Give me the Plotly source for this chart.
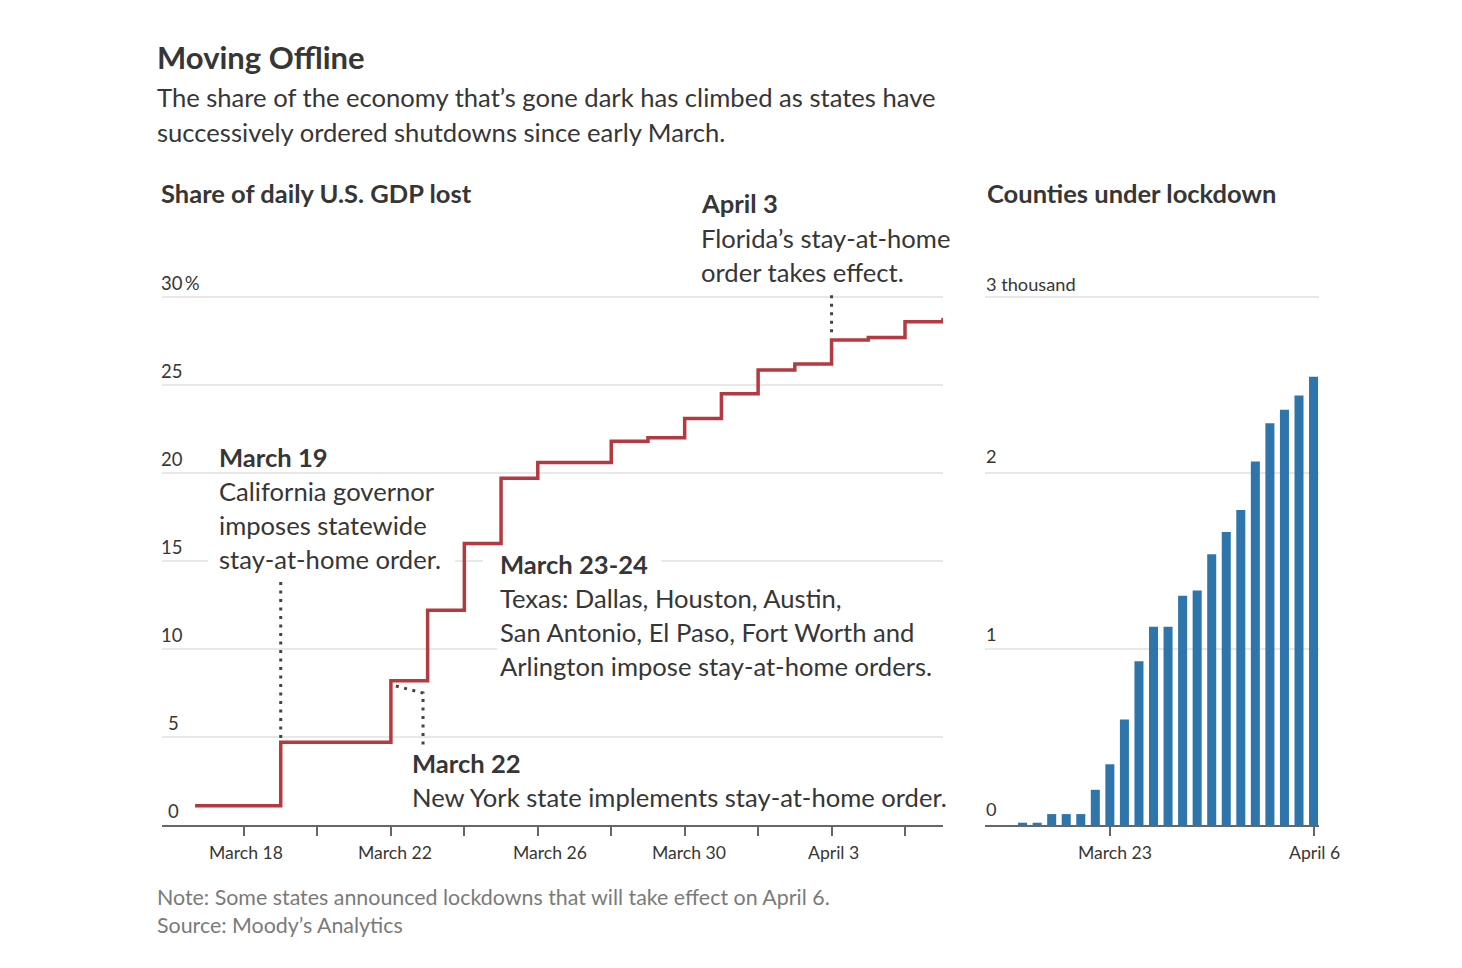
import plotly.graph_objs as go

W = 1462
H = 968

# left panel, share of daily GDP lost (percent), step after each date
gdp_dates = ['2020-03-16 16:00', '2020-03-19', '2020-03-22', '2020-03-23', '2020-03-24', '2020-03-25',
             '2020-03-26', '2020-03-28', '2020-03-29', '2020-03-30', '2020-03-31', '2020-04-01',
             '2020-04-02', '2020-04-03', '2020-04-04', '2020-04-05', '2020-04-06 00:50']
gdp_share = [1.1, 4.7, 8.2, 12.2, 16.0, 19.7, 20.6, 21.8, 22.0, 23.1, 24.5, 25.85, 26.2, 27.55, 27.7, 28.6, 28.8]

left_ticks = ['2020-03-18', '2020-03-20', '2020-03-22', '2020-03-24', '2020-03-26', '2020-03-28', '2020-03-30',
              '2020-04-01', '2020-04-03', '2020-04-05']
left_labels = ['March 18', 'March 22', 'March 26', 'March 30', 'April 3']
left_label_dates = ['2020-03-18', '2020-03-22', '2020-03-26', '2020-03-30', '2020-04-03']
left_y_ticks = [0, 5, 10, 15, 20, 25, 30]
left_y_labels = ['0', '5', '10', '15', '20', '25', '30\u2009%']

# right panel, counties under lockdown (thousands)
county_dates = ['2020-03-17', '2020-03-18', '2020-03-19', '2020-03-20', '2020-03-21', '2020-03-22', '2020-03-23',
                '2020-03-24', '2020-03-25', '2020-03-26', '2020-03-27', '2020-03-28', '2020-03-29', '2020-03-30',
                '2020-03-31', '2020-04-01', '2020-04-02', '2020-04-03', '2020-04-04', '2020-04-05', '2020-04-06']
counties = [0.013, 0.013, 0.062, 0.062, 0.062, 0.2, 0.345, 0.6, 0.93, 1.127, 1.127, 1.303, 1.333, 1.538, 1.665,
            1.79, 2.066, 2.282, 2.36, 2.44, 2.547]
right_ticks = ['2020-03-23', '2020-04-06']
right_labels = ['March 23', 'April 6']
right_y_ticks = [0, 1, 2, 3]
right_y_labels = ['0', '1', '2', '3 thousand']

# dotted leaders
leader_mar19_x = ['2020-03-19', '2020-03-19']
leader_mar19_y = [13.8, 4.9]
leader_mar22_x = ['2020-03-22 03:15', '2020-03-22 21:00', '2020-03-22 21:00']
leader_mar22_y = [7.9, 7.5, 4.4]
leader_apr3_x = ['2020-04-03', '2020-04-03']
leader_apr3_y = [30.1, 27.7]

FONT = 'Lato'
DARK = '#363636'
GREY = '#7a7a7a'
RED = '#b5393f'
BLUE = '#2e75ab'
BODY = 25.6


def px(x, y):
    return x / W, 1 - y / H


def label(x, y, text, size=BODY, color=DARK, bold=False):
    # annotations carry a little padding, so pull them back to the measured spot
    fx, fy = px(x - 2, y - 1.5)
    if bold:
        text = '<b>' + text + '</b>'
    return dict(x=fx, y=fy, xref='paper', yref='paper', text=text, showarrow=False, xanchor='left', yanchor='middle',
                font=dict(family=FONT, size=size, color=color))


def gap(x0, x1, level):
    # white patch that interrupts a gridline behind the notes
    return dict(type='rect', xref='x', yref='y', x0=x0, x1=x1, y0=level - 0.4, y1=level + 0.4, layer='between',
                fillcolor='white', line=dict(width=0))


fig = go.Figure()

dots = dict(color='#444444', width=3, dash='3px,5.5px')
fig.add_trace(go.Scatter(x=leader_mar19_x, y=leader_mar19_y, mode='lines', xaxis='x', yaxis='y', line=dots))
fig.add_trace(go.Scatter(x=leader_mar22_x, y=leader_mar22_y, mode='lines', xaxis='x', yaxis='y', line=dots))
fig.add_trace(go.Scatter(x=leader_apr3_x, y=leader_apr3_y, mode='lines', xaxis='x', yaxis='y', line=dots))
fig.add_trace(go.Scatter(x=gdp_dates, y=gdp_share, mode='lines', xaxis='x', yaxis='y',
                         line=dict(color=RED, width=3.5, shape='hv')))
fig.add_trace(go.Bar(x=county_dates, y=counties, xaxis='x2', yaxis='y2', marker=dict(color=BLUE, line=dict(width=0))))

annotations = [
    label(157, 58, 'Moving Offline', size=31, bold=True),
    label(157, 99, 'The share of the economy that’s gone dark has climbed as states have'),
    label(157, 133, 'successively ordered shutdowns since early March.'),
    label(161, 195, 'Share of daily U.S. GDP lost', size=25.5, bold=True),
    label(987, 195, 'Counties under lockdown', size=25.5, bold=True),
    label(701, 205, 'April 3', bold=True),
    label(701, 239, 'Florida’s stay-at-home'),
    label(701, 273, 'order takes effect.'),
    label(219, 458, 'March 19', bold=True),
    label(219, 492, 'California governor'),
    label(219, 526, 'imposes statewide'),
    label(219, 560, 'stay-at-home order.'),
    label(500, 565, 'March 23-24', bold=True),
    label(500, 599, 'Texas: Dallas, Houston, Austin,'),
    label(500, 633, 'San Antonio, El Paso, Fort Worth and'),
    label(500, 667, 'Arlington impose stay-at-home orders.'),
    label(412, 764, 'March 22', bold=True),
    label(412, 798, 'New York state implements stay-at-home order.'),
    label(157, 898, 'Note: Some states announced lockdowns that will take effect on April 6.', size=21.4, color=GREY),
    label(157, 926, 'Source: Moody’s Analytics', size=21.4, color=GREY),
]

for val, txt in zip(left_y_ticks, left_y_labels):
    annotations.append(dict(x=px(159, 0)[0], y=val, xref='paper', yref='y', yshift=14, text=txt, showarrow=False,
                            xanchor='left', yanchor='middle', xshift=7 if val < 10 else 0,
                            font=dict(family=FONT, size=18.5, color=DARK)))
for val, txt, shift in zip(right_y_ticks, right_y_labels, (16, 15, 17, 13)):
    annotations.append(dict(x=px(984, 0)[0], y=val, xref='paper', yref='y2', yshift=shift, text=txt, showarrow=False,
                            xanchor='left', yanchor='middle', font=dict(family=FONT, size=18.2, color=DARK)))
for day, txt, shift in zip(left_label_dates, left_labels, (2, 4, 12, 4, 2)):
    annotations.append(dict(x=day, y=px(0, 852)[1], xref='x', yref='paper', text=txt, showarrow=False, xshift=shift,
                            xanchor='center', yanchor='middle', font=dict(family=FONT, size=17.6, color=DARK)))
for day, txt, shift in zip(right_ticks, right_labels, (5, 1)):
    annotations.append(dict(x=day, y=px(0, 852)[1], xref='x2', yref='paper', text=txt, showarrow=False, xshift=shift,
                            xanchor='center', yanchor='middle', font=dict(family=FONT, size=17.6, color=DARK)))

shapes = [
    gap('2020-03-17 00:30', '2020-03-23 18:00', 15),
    gap('2020-03-24 12:15', '2020-03-29 09:00', 15),
    gap('2020-03-24 21:30', '2020-04-06 00:50', 10),
]

axis_x = dict(type='date', showgrid=False, showline=True, linecolor='#666666', linewidth=1.5, ticks='outside',
              ticklen=9, tickwidth=1.5, tickcolor='#666666', showticklabels=False)
axis_y = dict(showgrid=True, gridcolor='#e8e8e8', gridwidth=1.5, zeroline=False, showline=False, ticks='',
              showticklabels=False, tick0=0)

# y ranges run a little past the top gridline so that plotly still draws it
top = 1 - (825 - 31 * 17.6) / H
fig.update_layout(
    width=W, height=H, margin=dict(l=0, r=0, t=0, b=0), paper_bgcolor='white', plot_bgcolor='white',
    showlegend=False, bargap=0.38, annotations=annotations, shapes=shapes,
    xaxis=dict(axis_x, domain=[162 / W, 943 / W], range=['2020-03-15 18:24', '2020-04-06 00:50'], anchor='y',
               tickmode='array', tickvals=left_ticks),
    yaxis=dict(axis_y, domain=[1 - 825 / H, top], range=[0, 31], anchor='x', dtick=5),
    xaxis2=dict(axis_x, domain=[985 / W, 1319 / W], range=['2020-03-14 10:00', '2020-04-06 09:00'], anchor='y2',
                tickmode='array', tickvals=right_ticks),
    yaxis2=dict(axis_y, domain=[1 - 825 / H, top], range=[0, 3.1], anchor='x2', dtick=1),
)

fig.write_html("out.html", config=dict(displayModeBar=False), post_script="document.body.style.margin='0';")
